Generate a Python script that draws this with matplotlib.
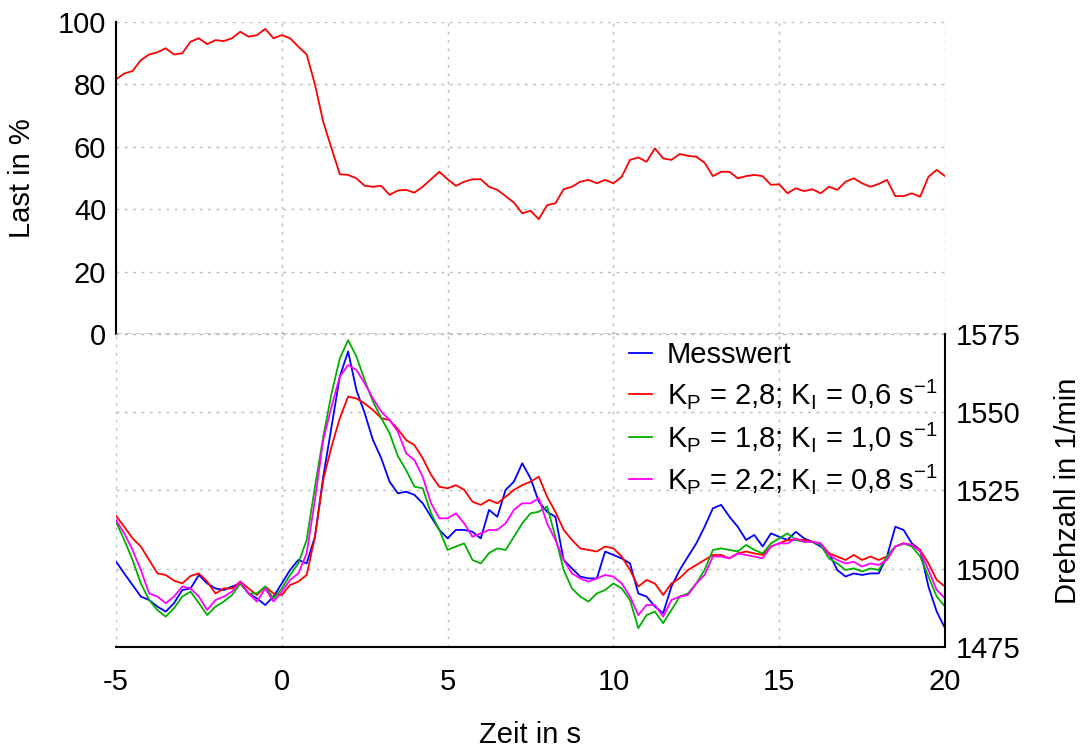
import numpy as np
import matplotlib.pyplot as plt

plt.rcParams['font.family'] = ['Liberation Sans', 'DejaVu Sans']
plt.rcParams['mathtext.fontset'] = 'custom'
plt.rcParams['mathtext.rm'] = 'Liberation Sans'
plt.rcParams['mathtext.it'] = 'Liberation Sans:italic'
plt.rcParams['axes.unicode_minus'] = False

# time axis, 0.25 s steps from -5 s to 20 s
zeit = np.arange(-5, 20.001, 0.25)

last = [81.6, 83.5, 84.3, 87.8,
        89.6, 90.3, 91.6, 89.6,
        90.0, 93.7, 94.8, 92.9,
        94.2, 93.9, 94.8, 96.9,
        95.3, 95.8, 97.8, 94.8,
        95.8, 94.8, 92.1, 89.6,
        80.0, 68.0, 59.5, 51.2,
        51.0, 49.9, 47.5, 47.2,
        47.5, 44.6, 46.0, 46.2,
        45.3, 47.2, 49.6, 52.0,
        49.6, 47.5, 48.8, 49.6,
        49.6, 47.2, 46.2, 44.2,
        42.1, 38.7, 39.5, 36.8,
        41.3, 41.9, 46.4, 47.2,
        48.8, 49.4, 48.3, 49.4,
        48.3, 50.4, 55.8, 56.6,
        55.2, 59.5, 56.3, 55.8,
        57.7, 57.1, 56.8, 54.9,
        50.6, 52.0, 52.0, 49.9,
        50.6, 51.0, 50.6, 47.8,
        48.0, 45.1, 46.7, 45.8,
        46.4, 45.1, 47.2, 46.2,
        48.8, 49.9, 48.3, 47.2,
        48.1, 49.4, 44.2, 44.2,
        45.1, 44.0, 50.4, 52.6,
        50.6]

messwert = [1502.3, 1498.5, 1494.8, 1491.1,
            1490.0, 1487.9, 1486.3, 1489.0,
            1493.2, 1493.7, 1498.0, 1495.3,
            1493.7, 1493.2, 1494.3, 1495.3,
            1492.1, 1490.5, 1488.4, 1491.1,
            1495.3, 1499.6, 1502.8, 1501.7,
            1510.2, 1529.4, 1545.4, 1561.4,
            1569.4, 1557.1, 1549.7, 1541.1,
            1535.3, 1527.8, 1524.1, 1524.6,
            1523.6, 1520.9, 1516.6, 1512.4,
            1509.7, 1512.4, 1512.4, 1511.8,
            1509.7, 1518.8, 1516.6, 1525.2,
            1527.8, 1533.7, 1528.9, 1521.4,
            1518.2, 1516.6, 1502.8, 1500.1,
            1497.5, 1496.9, 1496.9, 1505.5,
            1504.4, 1503.3, 1501.7, 1492.1,
            1491.1, 1487.9, 1485.8, 1494.3,
            1499.6, 1503.9, 1508.1, 1513.4,
            1519.3, 1520.4, 1516.6, 1513.4,
            1509.2, 1510.8, 1507.1, 1511.3,
            1510.2, 1509.2, 1511.8, 1509.7,
            1508.6, 1507.1, 1505.0, 1499.6,
            1497.5, 1498.5, 1498.0, 1498.5,
            1498.5, 1503.9, 1513.4, 1512.4,
            1508.1, 1506.0, 1494.3, 1486.3,
            1481.0]

kp28 = [1516.9, 1513.4, 1509.7, 1507.1,
        1502.8, 1498.5, 1498.0, 1496.2,
        1495.3, 1497.7, 1498.5, 1495.9,
        1492.1, 1493.7, 1493.7, 1495.9,
        1493.7, 1491.6, 1494.3, 1492.1,
        1491.6, 1494.8, 1495.9, 1498.0,
        1510.2, 1528.4, 1539.0, 1548.1,
        1555.0, 1554.4, 1552.8, 1550.7,
        1548.1, 1547.5, 1544.6, 1541.1,
        1539.5, 1535.3, 1530.0, 1526.2,
        1525.7, 1526.7, 1525.2, 1521.4,
        1520.4, 1522.0, 1520.9, 1523.0,
        1525.2, 1526.7, 1527.8, 1529.4,
        1523.0, 1518.2, 1512.4, 1509.2,
        1506.5, 1506.0, 1505.5, 1507.1,
        1506.5, 1503.9, 1499.6, 1494.3,
        1496.4, 1495.3, 1491.6, 1495.3,
        1497.0, 1499.6, 1501.2, 1502.8,
        1504.4, 1504.4, 1503.3, 1504.9,
        1505.5, 1504.9, 1504.4, 1507.1,
        1508.1, 1509.2, 1509.2, 1509.2,
        1508.6, 1508.1, 1504.9, 1503.9,
        1502.8, 1504.4, 1502.8, 1503.9,
        1502.8, 1503.9, 1507.1, 1508.1,
        1507.6, 1506.0, 1501.7, 1496.4,
        1494.3]

kp18 = [1515.0, 1509.2, 1502.8, 1495.3,
        1490.0, 1486.8, 1484.7, 1487.4,
        1491.1, 1492.7, 1489.0, 1485.2,
        1487.9, 1489.5, 1491.6, 1495.3,
        1492.1, 1492.1, 1494.3, 1490.5,
        1493.7, 1498.0, 1501.7, 1509.2,
        1526.2, 1542.2, 1556.0, 1567.2,
        1573.0, 1567.8, 1560.3, 1553.4,
        1548.1, 1543.3, 1536.0, 1531.5,
        1526.2, 1525.7, 1517.7, 1512.4,
        1506.0, 1507.1, 1508.1, 1502.8,
        1501.7, 1505.0, 1506.5, 1506.0,
        1510.2, 1514.5, 1517.7, 1518.2,
        1519.9, 1510.2, 1499.6, 1493.7,
        1491.1, 1489.5, 1492.1, 1493.2,
        1495.3, 1493.7, 1490.0, 1481.0,
        1485.2, 1486.3, 1482.6, 1486.8,
        1491.1, 1492.1, 1495.3, 1499.6,
        1506.0, 1506.5, 1506.0, 1505.5,
        1507.6, 1506.0, 1504.9, 1508.1,
        1509.7, 1511.3, 1509.2, 1508.6,
        1508.6, 1507.6, 1503.3, 1501.7,
        1499.6, 1500.1, 1499.1, 1500.1,
        1499.6, 1503.9, 1507.1, 1508.1,
        1507.1, 1503.9, 1497.5, 1491.1,
        1487.9]

kp22 = [1515.6, 1511.3, 1506.0, 1499.6,
        1492.1, 1491.1, 1489.0, 1491.1,
        1494.3, 1493.7, 1491.1, 1486.8,
        1490.0, 1491.1, 1492.7, 1495.9,
        1492.1, 1489.5, 1493.7, 1489.5,
        1492.7, 1496.4, 1498.5, 1504.9,
        1522.0, 1541.1, 1551.8, 1561.4,
        1565.1, 1563.5, 1559.2, 1554.4,
        1550.2, 1547.5, 1543.8, 1536.9,
        1534.7, 1529.4, 1520.9, 1516.1,
        1516.1, 1517.7, 1514.5, 1510.2,
        1511.3, 1512.4, 1512.4, 1514.5,
        1518.8, 1520.9, 1520.9, 1522.5,
        1514.5, 1509.2, 1502.8, 1498.5,
        1496.9, 1495.9, 1496.9, 1498.0,
        1497.5, 1495.3, 1491.1, 1485.2,
        1488.4, 1488.4, 1484.7, 1490.0,
        1491.1, 1491.6, 1495.3, 1498.0,
        1503.9, 1503.9, 1503.3, 1504.9,
        1504.4, 1503.9, 1503.3, 1507.1,
        1508.1, 1508.1, 1509.7, 1508.6,
        1508.6, 1508.1, 1504.4, 1502.8,
        1501.7, 1502.2, 1500.7, 1501.7,
        1501.2, 1502.8, 1507.1, 1508.1,
        1507.6, 1505.5, 1499.6, 1493.2,
        1490.5]

labels = ['Messwert',
          r'K$_\mathrm{P}$ = 2,8; K$_\mathrm{I}$ = 0,6 s$^\mathrm{-1}$',
          r'K$_\mathrm{P}$ = 1,8; K$_\mathrm{I}$ = 1,0 s$^\mathrm{-1}$',
          r'K$_\mathrm{P}$ = 2,2; K$_\mathrm{I}$ = 0,8 s$^\mathrm{-1}$']
colors = ['#0000ff', '#ff0000', '#00b000', '#ff00ff']
xticks = [-5, 0, 5, 10, 15, 20]

fs = 21
grid_kw = dict(color='#bbbbbb', linestyle=(0, (2, 4)), linewidth=1)

fig = plt.figure(figsize=(10.91, 7.47), dpi=100)
ax_top = fig.add_axes([0.1063, 0.5529, 0.7599, 0.4176])
ax_bot = fig.add_axes([0.1063, 0.1339, 0.7599, 0.4190])

# upper panel: Last
ax_top.plot(zeit, last, color='#ff0000', lw=1.3)
ax_top.set_xlim(-5, 20)
ax_top.set_ylim(0, 100)
ax_top.set_xticks(xticks)
ax_top.set_yticks([0, 20, 40, 60, 80, 100])
ax_top.tick_params(axis='both', length=0, labelsize=fs)
ax_top.tick_params(axis='x', labelbottom=False)
ax_top.tick_params(axis='y', pad=7)
ax_top.grid(True, **grid_kw)
ax_top.spines['top'].set_visible(False)
ax_top.spines['right'].set_visible(False)
ax_top.spines['bottom'].set_linestyle((0, (4, 3)))
ax_top.spines['bottom'].set_linewidth(1)
ax_top.spines['left'].set_linewidth(1.5)
ax_top.set_ylabel('Last in %', fontsize=fs, labelpad=16)

# lower panel: Drehzahl
for y, c, lab in zip([messwert, kp28, kp18, kp22], colors, labels):
    ax_bot.plot(zeit, y, color=c, lw=1.3, label=lab)
ax_bot.set_xlim(-5, 20)
ax_bot.set_ylim(1475, 1575)
ax_bot.set_xticks(xticks)
ax_bot.set_yticks([1475, 1500, 1525, 1550, 1575])
ax_bot.yaxis.tick_right()
ax_bot.yaxis.set_label_position('right')
ax_bot.tick_params(axis='both', length=0, labelsize=fs)
ax_bot.tick_params(axis='x', pad=15)
ax_bot.tick_params(axis='y', pad=8)
ax_bot.grid(True, **grid_kw)
ax_bot.spines['left'].set_visible(False)
ax_bot.spines['top'].set_visible(False)
ax_bot.spines['right'].set_linewidth(1.5)
ax_bot.spines['bottom'].set_linewidth(1.5)
ax_bot.set_ylabel('Drehzahl in 1/min', fontsize=fs, labelpad=24)
ax_bot.set_xlabel('Zeit in s', fontsize=fs, labelpad=18)

ax_bot.legend(loc='upper right', frameon=False, fontsize=21,
              handlelength=0.8, handletextpad=0.5, labelspacing=0.28,
              borderaxespad=0.15, borderpad=0.1)

fig.savefig('out.png', dpi=100)
